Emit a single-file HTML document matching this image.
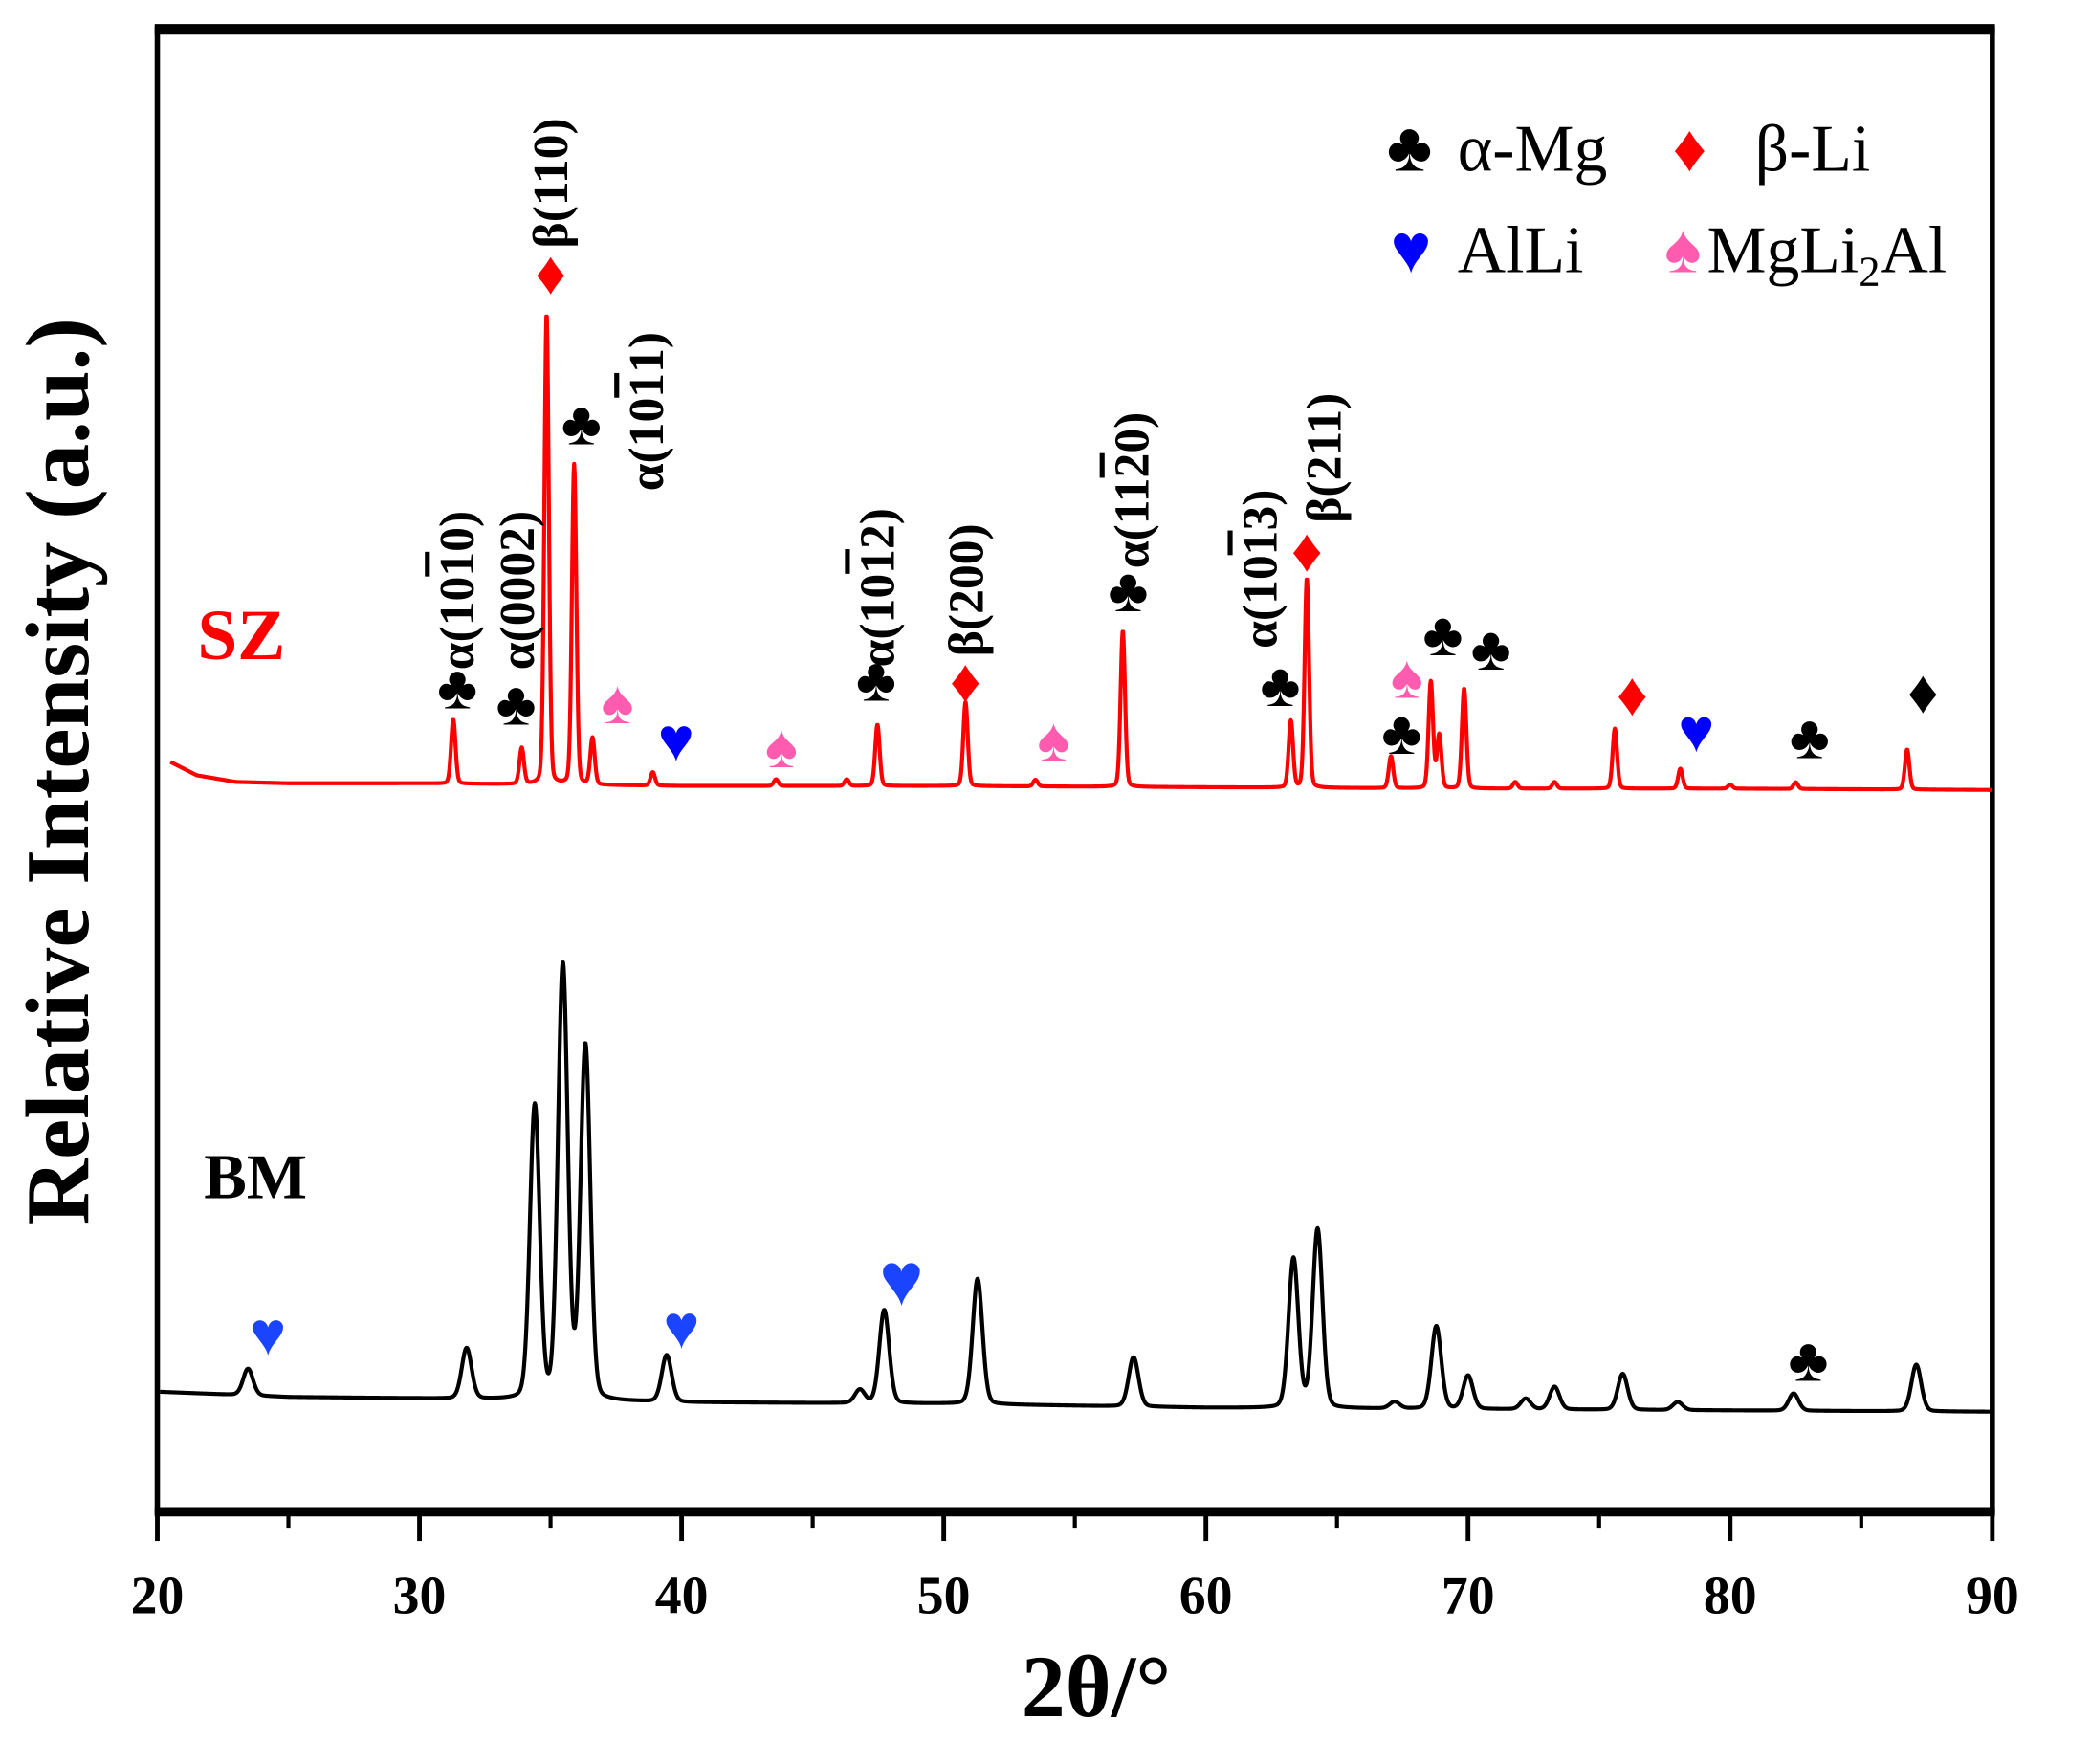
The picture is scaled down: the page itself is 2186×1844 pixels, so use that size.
<!DOCTYPE html>
<html><head><meta charset="utf-8"><style>
html,body{margin:0;padding:0;background:#fff}
svg{display:block}
text{font-family:"Liberation Serif","DejaVu Serif",serif;font-weight:bold}
.ov{text-decoration:overline}
</style></head><body>
<svg id="chart" width="2186" height="1844" viewBox="0 0 1568 1322" preserveAspectRatio="none" xmlns="http://www.w3.org/2000/svg">
<g id="axes"></g>
<g id="series"></g>
<g id="annot"></g>
<text x="0" y="0" transform="translate(66,578) rotate(-90)" text-anchor="middle" font-size="68">Relative Intensity (a.u.)</text>
<text x="822" y="1286" text-anchor="middle" font-size="66">2θ/°</text>
<text x="148" y="494" font-size="54" fill="#ff0000">SZ</text>
<text x="153" y="898" font-size="48" fill="#000">BM</text>
<g>
<text x="1057" y="128" font-size="52" text-anchor="middle">♣</text>
<text x="1093" y="128" font-size="50" style="font-weight:normal">α-Mg</text>
<text x="1267" y="128" font-size="50" text-anchor="middle" fill="#ff0000">♦</text>
<text x="1316" y="128" font-size="50" style="font-weight:normal">β-Li</text>
<text x="1058" y="204" font-size="52" text-anchor="middle" fill="#0000ff">♥</text>
<text x="1093" y="204" font-size="50" style="font-weight:normal">AlLi</text>
<text x="1262" y="204" font-size="52" text-anchor="middle" fill="#ff5cb0">♠</text>
<text x="1280" y="204" font-size="50" style="font-weight:normal">MgLi<tspan font-size="32" dy="10">2</tspan><tspan dy="-10">Al</tspan></text>
</g>
</svg>
<script>
// ---- data ----
const xTicks = [20,30,40,50,60,70,80,90];
const xMinorTicks = [25,35,45,55,65,75,85];
const szBaseX = [20.5,21.5,23,25,30,40,50,60,70,80,90];
const szBaseY = [562,552,547,546,546,544,544,543,542,542,541];
const szPeakPos = [31.29,33.9,34.85,35.9,36.6,38.9,43.6,46.3,47.47,50.83,53.5,56.83,63.24,63.85,67.06,68.58,68.9,69.85,71.8,73.3,75.6,78.1,80.0,82.5,86.75];
const szPeakH   = [48,27,353,240,35,10,5,5,46,63,5,117,50,157,24,80,40,75,5,5,45,15,3,5,30];
const bmBaseX = [20,25,30,40,50,60,70,80,90];
const bmBaseY = [90,86,85,82,81,78,77,76,75];
const bmPeakPos = [23.46,31.8,34.4,35.47,36.33,39.43,46.8,47.73,51.29,57.24,63.34,64.26,67.2,68.79,70.0,72.2,73.3,75.9,78.0,82.42,87.1];
const bmPeakH   = [20,38,220,325,265,35,10,70,94,37,112,134,5,62,25,8,17,27,6,13,35];

// ---- axis functions ----
const X0=118,X1=1494,Y0=22,Y1=1133;
function xs(v){return X0+(v-20)*(X1-X0)/70;}
function ys(v){return Y1-v;}
const NS="http://www.w3.org/2000/svg";
function mk(tag,attrs,parent){const e=document.createElementNS(NS,tag);for(const k in attrs)e.setAttribute(k,attrs[k]);parent.appendChild(e);return e;}

const axes=document.getElementById('axes');
const frame=mk('rect',{x:X0,y:Y0,width:X1-X0,height:Y1-Y0,fill:'none',stroke:'#000','stroke-width':4},axes);


const topLine=mk('line',{x1:X0-2,x2:X1+2,y1:Y0,y2:Y0,stroke:'#000','stroke-width':8},axes);


const xAxis=mk('line',{x1:X0-2,x2:X1+2,y1:Y1,y2:Y1,stroke:'#000','stroke-width':7},axes);


xTicks.forEach(t=>{
  const l=mk('line',{x1:xs(t),x2:xs(t),y1:Y1,y2:Y1+22,stroke:'#000','stroke-width':3.5},axes);
  
  
  const tx=mk('text',{x:xs(t),y:1209,'text-anchor':'middle','font-size':40},axes);
  tx.textContent=t;
  
  
});
xMinorTicks.forEach(t=>{
  const l=mk('line',{x1:xs(t),x2:xs(t),y1:Y1,y2:Y1+12,stroke:'#000','stroke-width':3},axes);
  
  
});

function interp(bx,by,x){
  if(x<=bx[0])return by[0];
  for(let i=1;i<bx.length;i++){if(x<=bx[i]){const f=(x-bx[i-1])/(bx[i]-bx[i-1]);return by[i-1]+f*(by[i]-by[i-1]);}}
  return by[by.length-1];
}
function curve(bx,by,pp,ph,fwhm,start){
  const pts=[];
  for(let x=start;x<=90;x+=0.02){
    let v=interp(bx,by,x);
    for(let i=0;i<pp.length;i++){const d=(x-pp[i])/fwhm;v+=ph[i]*(0.85*Math.exp(-4*Math.LN2*d*d)+0.15/(1+4*d*d));}
    pts.push(xs(x).toFixed(2)+','+ys(v).toFixed(2));
  }
  return pts.join(' ');
}
const ser=document.getElementById('series');
const sz=mk('polyline',{points:curve(szBaseX,szBaseY,szPeakPos,szPeakH,0.2,20.5),fill:'none',stroke:'#ff0000','stroke-width':3,'stroke-linejoin':'round'},ser);


const bm=mk('polyline',{points:curve(bmBaseX,bmBaseY,bmPeakPos,bmPeakH,0.44,20.1),fill:'none',stroke:'#000','stroke-width':3,'stroke-linejoin':'round'},ser);



// annotations
const an=document.getElementById('annot');
const symColor={'♣':'#000','♦':'#ff0000','♥':'#0000ff','♠':'#ff5cb0'};
const syms=[['♣',343,531],['♣',387,543],['♦',413,220],['♣',436,333],['♠',463,542],['♥',507,570],['♠',586,575],
['♣',657,525],['♦',724,526],['♠',790,570],['♣',846,458],['♣',960,529],['♦',980,428],['♠',1055,523],['♣',1051,565],
['♣',1082,491],['♣',1118,502],['♦',1224,536],['♥',1272,563],['♣',1357,568],['♦',1442,534,'#000'],
['♥',201,1015],['♥',511,1010],['♥',676,978,null,56],['♣',1356,1035]];
syms.forEach(s=>{
  const col=s[3]||symColor[s[0]];
  const fill=(s[0]==='♥' && s[2]>900)?'#1a44ff':col;
  const t=mk('text',{x:s[1],y:s[2],'text-anchor':'middle','font-size':s[4]||46,fill:fill},an);
  t.textContent=s[0];
  
  
});
// label parts: [prefix, overlined digit, suffix]
const labels=[[['α(10','1','0)'],343,502],[['α(0002)','',''],388,502],[['β(110)','',''],413,186],[['α(10','1','1)'],485,368],
[['α(10','1','2)'],658,500],[['β(200)','',''],725,492],[['α(11','2','0)'],849,426],[['α(10','1','3)'],945,486],[['β(211)','',''],993,392]];
labels.forEach(l=>{
  const t=mk('text',{x:0,y:0,transform:'translate('+l[1]+','+l[2]+') rotate(-90)','font-size':37,'dominant-baseline':'central'},an);
  
  
  const a=mk('tspan',{},t); a.textContent=l[0][0];
  if(l[0][1]){const b=mk('tspan',{'class':'ov'},t); b.textContent=l[0][1]; const c=mk('tspan',{},t); c.textContent=l[0][2];}
});
</script>
</body></html>
